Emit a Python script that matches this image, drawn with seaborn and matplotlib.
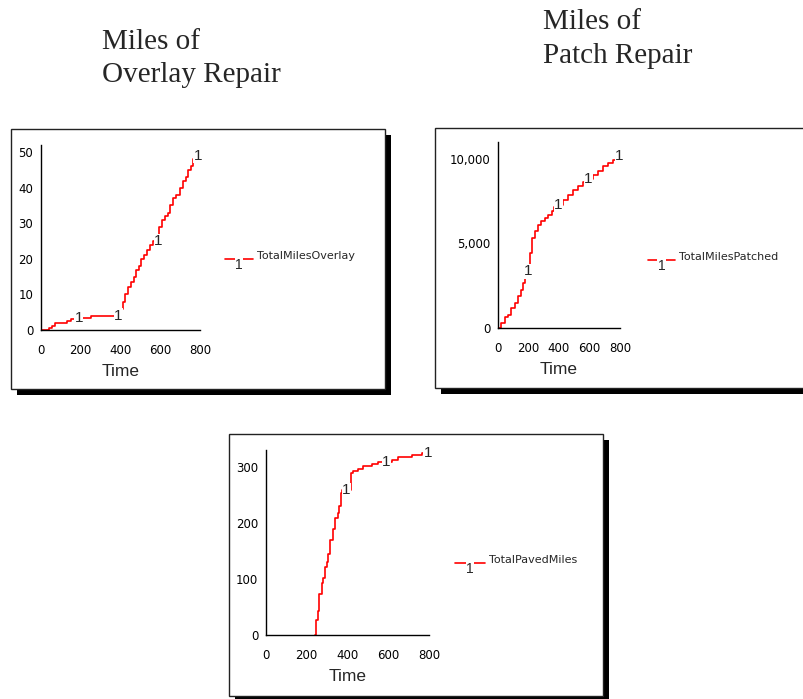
import seaborn as sns
import matplotlib.pyplot as plt
import numpy as np
from matplotlib.patches import Rectangle
from matplotlib.lines import Line2D
from matplotlib.ticker import FuncFormatter

sns.set_style("white")
plt.rcParams['font.family'] = ['DejaVu Sans']

# ---- data (time, cumulative miles), step series ----
overlay_t = [0, 30, 40, 55, 70, 120, 130, 150, 170, 250, 380, 410, 415, 425, 440, 455, 470,
             480, 495, 505, 520, 535, 550, 565, 595, 610, 625, 640, 650, 665, 680, 700,
             715, 730, 740, 755, 765, 780]
overlay_v = [0, 0, 0.5, 1, 2, 2, 2.5, 3, 3.5, 4, 4, 6, 8, 10, 12, 13.5, 15,
             17, 18, 20, 21, 22.5, 24, 25, 29, 31, 32, 33, 35, 37, 38, 40,
             42, 43, 45, 46, 48, 49]
overlay_marks = [190, 390, 590, 790]

patch_t = [0, 22, 44, 66, 88, 110, 132, 150, 165, 180, 193, 213, 224, 241, 263, 285, 307,
           329, 351, 368, 395, 428, 460, 493, 526, 559, 592, 625, 658, 690, 724, 756, 778]
patch_v = [0, 300, 630, 790, 1180, 1480, 1870, 2270, 2660, 3060, 3350, 4440, 5330, 5720,
           6110, 6310, 6510, 6670, 6900, 7140, 7300, 7590, 7890, 8150, 8380, 8640, 8800,
           9070, 9310, 9570, 9760, 9960, 10200]
patch_marks = [200, 395, 592, 795]

paved_t = [240, 244, 254, 262, 273, 281, 290, 298, 306, 314, 331, 339, 352, 360, 368, 375,
           417, 429, 453, 478, 519, 552, 617, 650, 715, 764, 785]
paved_v = [0, 27, 42, 74, 92, 101, 122, 131, 144, 169, 189, 208, 217, 230, 253, 258,
           289, 293, 297, 301, 305, 309, 313, 318, 321, 324, 325]
paved_marks = [395, 590, 795]

W, H = 804, 699
fig = plt.figure(figsize=(W / 100, H / 100), dpi=100)


def fx(x):
    return x / W


def fy(y):
    return 1 - y / H


def frame(x0, y0, x1, y1, off=6):
    # drop shadow then white box with thin border
    fig.patches.append(Rectangle((fx(x0 + off), fy(y1 + off)), (x1 - x0) / W, (y1 - y0) / H,
                                 transform=fig.transFigure, facecolor='black',
                                 edgecolor='none', zorder=-3))
    fig.patches.append(Rectangle((fx(x0), fy(y1)), (x1 - x0) / W, (y1 - y0) / H,
                                 transform=fig.transFigure, facecolor='white',
                                 edgecolor='#222222', lw=1.0, zorder=-2))


def step_at(ts, vs, t):
    i = np.searchsorted(ts, t, side='right') - 1
    return vs[max(i, 0)]


def panel(box, t, v, marks, ylim, yticks, legend, name, comma=False):
    left, top, right, bottom = box
    ax = fig.add_axes([fx(left), fy(bottom), (right - left) / W, (bottom - top) / H])
    ax.patch.set_visible(False)
    sns.lineplot(x=t, y=v, ax=ax, color='red', lw=1.2, drawstyle='steps-post',
                 sort=False, legend=False)
    for m in marks:
        ax.text(m, step_at(t, v, m), "1", fontsize=11, ha='center', va='center',
                family='Liberation Sans',
                bbox=dict(facecolor='white', edgecolor='none', pad=0.2))
    ax.set_xlim(0, 800)
    ax.set_ylim(*ylim)
    ax.set_xticks([0, 200, 400, 600, 800])
    ax.set_yticks(yticks)
    if comma:
        ax.yaxis.set_major_formatter(FuncFormatter(lambda val, p: f"{int(val):,}"))
    for s in ['top', 'right']:
        ax.spines[s].set_visible(False)
    for s in ['left', 'bottom']:
        ax.spines[s].set_color('black')
        ax.spines[s].set_linewidth(1.0)
    ax.tick_params(direction='inout', length=8, width=1, colors='black', labelsize=8.5)
    ax.tick_params(axis='x', pad=6)
    ax.tick_params(axis='y', pad=1.5)
    ax.set_ylabel("")
    ax.set_xlabel("Time", fontsize=12.5, labelpad=5, family='Liberation Sans')
    # legend entry
    lx0, lx1, ly = legend
    fig.add_artist(Line2D([fx(lx0), fx(lx1)], [fy(ly), fy(ly)], color='red', lw=1.2,
                          transform=fig.transFigure))
    fig.text(fx((lx0 + lx1) / 2), fy(ly + 6), "1", fontsize=10, ha='center', va='center',
             family='Liberation Sans',
             bbox=dict(facecolor='white', edgecolor='none', pad=0.3))
    fig.text(fx(lx1 + 4), fy(ly - 3), name, fontsize=8, ha='left', va='center')
    return ax


frame(11, 129, 385, 389)
frame(435, 128, 830, 388)
frame(229, 434, 603, 696)

panel((41, 145, 200, 330), overlay_t, overlay_v, overlay_marks, (0, 52),
      [0, 10, 20, 30, 40, 50], (225, 253, 259), "TotalMilesOverlay")
panel((498, 142, 620, 328), patch_t, patch_v, patch_marks, (0, 11000),
      [0, 5000, 10000], (648, 675, 260), "TotalMilesPatched", comma=True)
panel((266, 450, 429, 635), paved_t, paved_v, paved_marks, (0, 330),
      [0, 100, 200, 300], (455, 485, 563), "TotalPavedMiles")

serif = ['Liberation Serif', 'DejaVu Serif']
fig.text(fx(102), fy(49), "Miles of", fontsize=21, family=serif, va='baseline')
fig.text(fx(102), fy(82), "Overlay Repair", fontsize=21, family=serif, va='baseline')
fig.text(fx(543), fy(29), "Miles of", fontsize=21, family=serif, va='baseline')
fig.text(fx(543), fy(63), "Patch Repair", fontsize=21, family=serif, va='baseline')

plt.savefig("out.png", dpi=100)
